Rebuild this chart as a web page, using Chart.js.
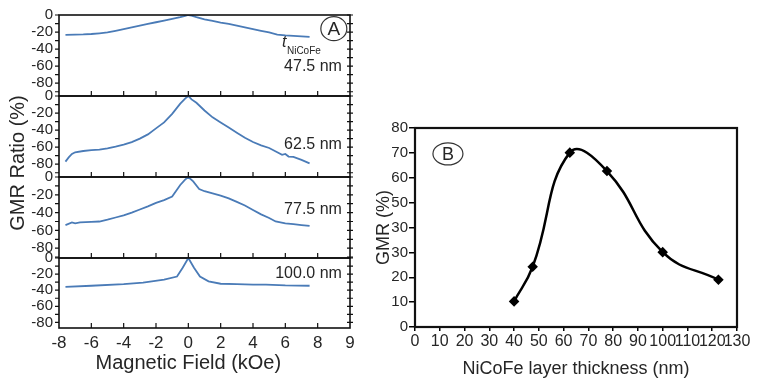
<!DOCTYPE html>
<html>
<head>
<meta charset="utf-8">
<title>GMR vs field and NiCoFe thickness</title>
<script src="https://cdn.jsdelivr.net/npm/chart.js@4.4.1/dist/chart.umd.min.js"></script>
<style>
  html, body { margin: 0; padding: 0; background: #fff; }
  #wrap { position: relative; width: 761px; height: 381px; overflow: hidden; }
  #wrap canvas { position: absolute; top: 0; }
</style>
</head>
<body>
<div id="wrap">
  <canvas id="a1" width="380" height="381" style="left:0"></canvas>
  <canvas id="a2" width="380" height="381" style="left:0"></canvas>
  <canvas id="a3" width="380" height="381" style="left:0"></canvas>
  <canvas id="a4" width="380" height="381" style="left:0"></canvas>
  <canvas id="b" width="389" height="381" style="left:372px"></canvas>
</div>
<script>
// Panel A: GMR ratio vs magnetic field, one curve per NiCoFe thickness
const fieldTicks = [-8, -6, -4, -2, 0, 2, 4, 6, 8, 10];
const fieldTickLabels = ["-8", "-6", "-4", "-2", "0", "2", "4", "6", "8", "9"];
const ratioTicks = [0, -20, -40, -60, -80];
const ratioMinorTicks = [0, -10, -20, -30, -40, -50, -60, -70, -80, -90];
const thicknessNames = ["47.5 nm", "62.5 nm", "77.5 nm", "100.0 nm"];

const field475 = [-7.6, -7, -6.5, -6, -5.5, -5, -4.5, -4, -3.5, -3, -2.5, -2, -1.5, -1, -0.5, -0.2, 0,
  0.2, 0.5, 1, 1.5, 2, 2.5, 3, 3.5, 4, 4.5, 5, 5.5, 6, 6.5, 7, 7.5];
const gmr475 = [-23.2, -23, -22.8, -22.3, -21.5, -20.5, -18.5, -16.5, -14.5, -12.5, -10.5, -8.5, -6.5, -4.5, -2.5, -1, 0,
  -0.8, -2.5, -5, -7, -9, -10.5, -12.5, -14.5, -16.5, -18.5, -20.5, -23, -24, -24.6, -25, -25.7];

const field625 = [-7.6, -7.4, -7.2, -7, -6.5, -6, -5.5, -5, -4.5, -4, -3.5, -3, -2.5, -2, -1.5, -1, -0.5, -0.2, 0,
  0.2, 0.5, 1, 1.5, 2, 2.5, 3, 3.5, 4, 4.5, 5, 5.5, 5.8, 6, 6.2, 6.5, 7, 7.5];
const gmr625 = [-77, -72, -68, -66, -64.5, -63.5, -63, -61.5, -59.5, -57, -54, -50, -45, -38, -31, -21, -9, -3, 0,
  -4, -8, -17, -25, -31, -37, -43, -49, -54, -58, -61, -66, -69, -68, -71, -71.5, -75, -79];

const field775 = [-7.6, -7.2, -7, -6.7, -6, -5.5, -5, -4.5, -4, -3.5, -3, -2.5, -2, -1.5, -1, -0.5, -0.2, 0,
  0.3, 0.67, 1, 1.5, 2, 2.5, 3, 3.5, 4, 4.5, 5, 5.4, 6, 6.5, 7, 7.5];
const gmr775 = [-54, -51, -52, -51, -50.5, -50, -48, -45.5, -43, -40, -36.5, -33, -29, -26, -22, -9, -3, 0,
  -5, -13.5, -16, -18.5, -21, -24, -28, -32, -37, -42, -46, -50, -52, -53, -54, -55];

const field1000 = [-7.6, -6, -4, -2.8, -1.5, -0.7, -0.35, 0, 0.35, 0.72, 1.25, 2, 3, 4, 4.8, 6, 7.5];
const gmr1000 = [-36, -34.5, -32.5, -30.5, -27, -23, -12, 0, -12, -23, -29, -32, -32.5, -33, -33, -34, -34.5];

// Panel B: GMR vs NiCoFe layer thickness
const thickness = [40, 47.5, 62.5, 77.5, 100, 122.5];
const gmrPeak = [10.3, 24.2, 70.1, 62.7, 30.1, 19];
const thicknessTicks = [0, 10, 20, 30, 40, 50, 60, 70, 80, 90, 100, 110, 120, 130];
const gmrTicks = [0, 10, 20, 30, 40, 50, 60, 70, 80];
const gmrTickLabels = ["0", "10", "20", "30", "30", "50", "60", "70", "80"];

const FONT = "'Liberation Sans', Arial, Helvetica, sans-serif";
const TEXT = "#262626";
const LINE_BLUE = "#4a7bb7";

// layout of the four stacked plot areas of panel A (canvas pixels)
const areaTop = [14, 96, 177, 258];
const areaBottom = [96, 177, 258, 328];
const areaMin = [-95, -95, -91, -87];

const decor = {
  id: "decor",
  afterDraw(chart, args, opts) {
    const { ctx, chartArea: a, scales } = chart;
    const x = scales.x, y = scales.y;
    ctx.save();
    ctx.strokeStyle = "#111";
    if (opts.kind === "A") {
      ctx.lineWidth = 1.6;
      ctx.strokeRect(a.left, a.top, a.width, a.height);
      ctx.lineWidth = 1.2;
      ctx.beginPath();
      ratioMinorTicks.forEach((v) => {
        if (v < y.min) return;
        const py = y.getPixelForValue(v);
        ctx.moveTo(a.left - 4, py); ctx.lineTo(a.left, py);
        ctx.moveTo(a.right - 3, py); ctx.lineTo(a.right + 3, py);
      });
      fieldTicks.slice(1, -1).forEach((v) => {
        const px = x.getPixelForValue(v);
        ctx.moveTo(px, a.bottom); ctx.lineTo(px, a.bottom - 5);
      });
      ctx.stroke();
    } else {
      ctx.lineWidth = 2.2;
      ctx.strokeRect(a.left, a.top, a.width, a.height);
    }
    ctx.fillStyle = TEXT;
    (opts.texts || []).forEach((t) => {
      ctx.font = t.font + " " + FONT;
      ctx.textAlign = t.align || "left";
      ctx.textBaseline = "middle";
      ctx.fillText(t.text, x.getPixelForValue(t.x), y.getPixelForValue(t.y));
    });
    if (opts.ellipse) {
      const e = opts.ellipse;
      const cx = x.getPixelForValue(e.x), cy = y.getPixelForValue(e.y);
      ctx.lineWidth = 1.2;
      ctx.strokeStyle = "#333";
      ctx.beginPath();
      ctx.ellipse(cx, cy, e.rx, e.ry, 0, 0, Math.PI * 2);
      ctx.stroke();
      ctx.font = e.font + " " + FONT;
      ctx.textAlign = "center";
      ctx.textBaseline = "middle";
      ctx.fillText(e.label, cx, cy + 1);
    }
    if (opts.xTitle) {
      ctx.font = "20px " + FONT;
      ctx.textAlign = "center";
      ctx.textBaseline = "middle";
      ctx.fillText(opts.xTitle, x.getPixelForValue(0), a.bottom + 35);
    }
    if (opts.yTitle) {
      ctx.font = "20px " + FONT;
      ctx.textAlign = "center";
      ctx.textBaseline = "middle";
      ctx.translate(18, 163);
      ctx.rotate(-Math.PI / 2);
      ctx.fillText(opts.yTitle, 0, 0);
    }
    ctx.restore();
  }
};

function curve(xs, ys) {
  return xs.map((v, i) => ({ x: v, y: ys[i] }));
}

function subplot(id, i, xs, ys, extra) {
  const last = i === 3;
  new Chart(document.getElementById(id), {
    type: "scatter",
    data: {
      datasets: [{
        data: curve(xs, ys),
        showLine: true,
        borderColor: LINE_BLUE,
        borderWidth: 1.8,
        pointRadius: 0,
        tension: 0
      }]
    },
    options: {
      responsive: false,
      animation: false,
      layout: { padding: { top: areaTop[i], bottom: last ? 0 : 381 - areaBottom[i], left: 0, right: 30 } },
      plugins: {
        legend: { display: false },
        tooltip: { enabled: false },
        decor: Object.assign({
          kind: "A",
          texts: [{ text: thicknessNames[i], x: 9.5, y: extra.labelY, font: "16px", align: "right" }].concat(extra.texts || [])
        }, extra.opts || {})
      },
      scales: {
        x: {
          type: "linear",
          min: -8,
          max: 10,
          display: last,
          afterBuildTicks: (s) => { s.ticks = fieldTicks.map((v) => ({ value: v })); },
          afterFit: (s) => { s.height = last ? 53 : 0; },
          grid: { display: false, drawTicks: false },
          border: { display: false },
          ticks: {
            autoSkip: false,
            maxRotation: 0,
            padding: 5,
            color: TEXT,
            font: { family: FONT, size: 17 },
            callback: (v, idx) => fieldTickLabels[idx]
          }
        },
        y: {
          type: "linear",
          min: areaMin[i],
          max: 0,
          afterBuildTicks: (s) => { s.ticks = ratioTicks.map((v) => ({ value: v })); },
          afterFit: (s) => { s.width = 59; },
          grid: { display: false, drawTicks: false },
          border: { display: false },
          ticks: {
            autoSkip: false,
            padding: 6,
            color: TEXT,
            font: { family: FONT, size: 15 }
          }
        }
      }
    },
    plugins: [decor]
  });
}

subplot("a1", 0, field475, gmr475, {
  labelY: -60,
  texts: [
    { text: "t", x: 5.8, y: -32, font: "italic 16px" },
    { text: "NiCoFe", x: 6.1, y: -42.5, font: "10px" }
  ],
  opts: { ellipse: { x: 9.0, y: -16, rx: 13, ry: 12, label: "A", font: "19px" } }
});
subplot("a2", 1, field625, gmr625, { labelY: -57, opts: { yTitle: "GMR Ratio (%)" } });
subplot("a3", 2, field775, gmr775, { labelY: -37 });
subplot("a4", 3, field1000, gmr1000, { labelY: -20, opts: { xTitle: "Magnetic Field (kOe)" } });

new Chart(document.getElementById("b"), {
  type: "scatter",
  data: {
    datasets: [{
      data: curve(thickness, gmrPeak),
      showLine: true,
      borderColor: "#000",
      borderWidth: 2.5,
      tension: 0.45,
      pointStyle: "rectRot",
      pointRadius: 3.5,
      pointBackgroundColor: "#000",
      pointBorderColor: "#000"
    }]
  },
  options: {
    responsive: false,
    animation: false,
    layout: { padding: { top: 128, right: 24, bottom: 0, left: 0 } },
    plugins: {
      legend: { display: false },
      tooltip: { enabled: false },
      decor: { kind: "B", ellipse: { x: 13.3, y: 69.6, rx: 15, ry: 11, label: "B", font: "18px" } }
    },
    scales: {
      x: {
        type: "linear",
        min: 0,
        max: 130,
        afterBuildTicks: (s) => { s.ticks = thicknessTicks.map((v) => ({ value: v })); },
        afterFit: (s) => { s.height = 54; },
        grid: { drawOnChartArea: false, drawTicks: true, tickLength: 4, color: "#000", lineWidth: 1.5 },
        border: { display: false },
        ticks: { autoSkip: false, maxRotation: 0, padding: 1, color: TEXT, font: { family: FONT, size: 16 } },
        title: { display: true, text: "NiCoFe layer thickness (nm)", color: TEXT, font: { family: FONT, size: 18 }, padding: { top: 0, bottom: 1 } }
      },
      y: {
        type: "linear",
        min: 0,
        max: 80,
        afterBuildTicks: (s) => { s.ticks = gmrTicks.map((v) => ({ value: v })); },
        afterFit: (s) => { s.width = 43; },
        grid: { drawOnChartArea: false, drawTicks: true, tickLength: 6, color: "#000", lineWidth: 1.5 },
        border: { display: false },
        ticks: {
          autoSkip: false,
          padding: 1,
          color: TEXT,
          font: { family: FONT, size: 15 },
          callback: (v, idx) => gmrTickLabels[idx]
        },
        title: { display: true, text: "GMR (%)", color: TEXT, font: { family: FONT, size: 18 }, padding: { top: 1, bottom: 0 } }
      }
    }
  },
  plugins: [decor]
});
</script>
</body>
</html>
